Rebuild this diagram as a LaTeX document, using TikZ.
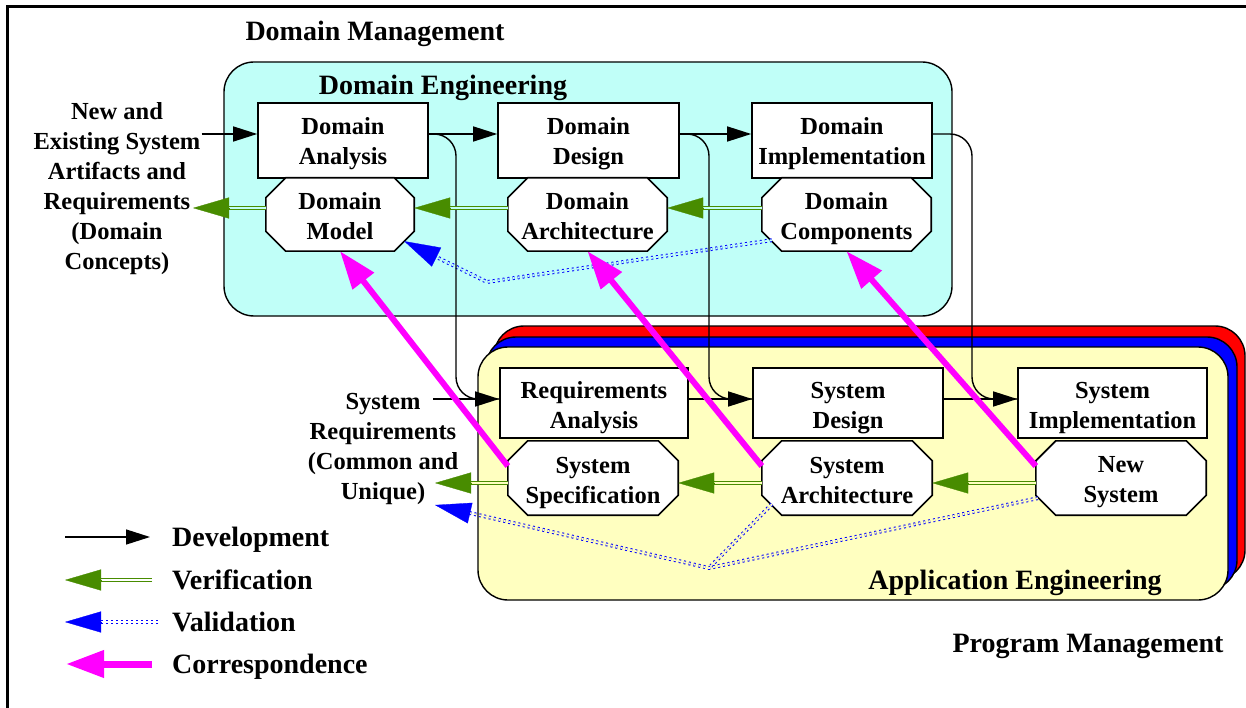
\documentclass[tikz,border=0pt]{standalone}
\usepackage{fontspec}
\setmainfont{Liberation Serif}
\usetikzlibrary{arrows.meta,calc}
\definecolor{cyanbg}{RGB}{192,255,248}
\definecolor{yellowbg}{RGB}{255,255,192}
\definecolor{vgreen}{RGB}{72,140,0}
\definecolor{corrc}{RGB}{255,0,255}
\newcommand\octoshape[1]{%
  \draw[line width=1.6pt, fill=white]
   ([xshift=20pt]#1.north west) -- ([xshift=-20pt]#1.north east) --
   ([yshift=-20pt]#1.north east) -- ([yshift=20pt]#1.south east) --
   ([xshift=-20pt]#1.south east) -- ([xshift=20pt]#1.south west) --
   ([yshift=20pt]#1.south west) -- ([yshift=-20pt]#1.north west) -- cycle;}
\begin{document}
\begin{tikzpicture}[x=1pt,y=-1pt,
  font=\fontsize{24.5}{30}\selectfont\bfseries,
  box/.style={draw, line width=1.6pt, fill=white, rectangle, inner sep=0pt},
  geo/.style={rectangle, inner sep=0pt},
  lbl/.style={align=center, inner sep=0pt},
  dev/.style={line width=1.4pt, -{Triangle[length=24pt,width=15pt]}},
  devline/.style={line width=1.4pt, rounded corners=22pt},
  verline/.style={draw=vgreen, line width=1.3pt, double=#1, double distance=1.6pt},
  verhead/.style={draw=vgreen, line width=0.3pt, -{Triangle[length=36pt,width=21pt]}},
  valline/.style={draw=blue, line width=1pt, double=#1, double distance=1.8pt, dash pattern=on 2pt off 3pt},
  valhead/.style={draw=blue, line width=0.3pt, -{Triangle[length=36pt,width=21pt]}},
  corr/.style={draw=corrc, line width=6pt, -{Triangle[length=38pt,width=26pt]}},
  head/.style={font=\fontsize{28}{33}\selectfont\bfseries, inner sep=0pt, anchor=base},
  txt/.style={align=center, inner sep=1pt}
]
\useasboundingbox (0,0) rectangle (1246,708);
\fill[white] (0,0) rectangle (1246,708);
% outer frame
\draw[line width=3pt] (7,708) -- (7,6.5) -- (1246,6.5);

% domain engineering box
\draw[line width=1.4pt, fill=cyanbg, rounded corners=30pt] (224,62) rectangle (952,316);
% application engineering stack
\draw[line width=1.4pt, fill=red, rounded corners=30pt] (494,326) rectangle (1245,580);
\draw[line width=1.4pt, fill=blue, rounded corners=30pt] (486,337) rectangle (1237,590);
\draw[line width=1.4pt, fill=yellowbg, rounded corners=30pt] (478,347) rectangle (1228,600);

% headings
\node[head] (hDM) at (375,40.5) {Domain Management};
\node[head] (hDE) at (443,94.5) {Domain Engineering};
\node[head] (hAE) at (1015,589.5) {Application Engineering};
\node[head] (hPM) at (1088,652.5) {Program Management};

% side texts
\node[txt] (NE) at (117,189) {New and\\Existing System\\Artifacts and\\Requirements\\(Domain\\Concepts)};
\node[txt] (SR) at (383,448.5) {System\\Requirements\\(Common and\\Unique)};

% domain boxes
\node[box, minimum width=170pt, minimum height=75pt] (DA) at (343,140.5) {};
\node[box, minimum width=181pt, minimum height=75pt] (DD) at (588.5,140.5) {};
\node[box, minimum width=180pt, minimum height=75pt] (DI) at (842,140.5) {};
\node[geo, minimum width=148pt, minimum height=73pt] (DM) at (340,214.5) {};
\node[geo, minimum width=159pt, minimum height=73pt] (DAr) at (587.5,214.5) {};
\node[geo, minimum width=169pt, minimum height=73pt] (DC) at (846.5,214.5) {};
\octoshape{DM}\octoshape{DAr}\octoshape{DC}
\node[lbl] (DAt) at ([yshift=-3.5pt]DA.center) {Domain\\Analysis};
\node[lbl] (DDt) at ([yshift=-3.5pt]DD.center) {Domain\\Design};
\node[lbl] (DIt) at ([yshift=-3.5pt]DI.center) {Domain\\Implementation};
\node[lbl] (DMt) at ([yshift=-1.5pt]DM.center) {Domain\\Model};
\node[lbl] (DArt) at ([yshift=-1.5pt]DAr.center) {Domain\\Architecture};
\node[lbl] (DCt) at ([yshift=-4pt]DC.center) {Domain\\Components};

% application boxes
\node[box, minimum width=188pt, minimum height=70pt] (RA) at (594,403) {};
\node[box, minimum width=190pt, minimum height=70pt] (SD) at (848,403) {};
\node[box, minimum width=189pt, minimum height=70pt] (SI) at (1112.5,403) {};
\node[geo, minimum width=170pt, minimum height=74pt] (SS) at (593,478) {};
\node[geo, minimum width=170pt, minimum height=74pt] (SA) at (847,478) {};
\node[geo, minimum width=170pt, minimum height=74pt] (NS) at (1121,478) {};
\octoshape{SS}\octoshape{SA}\octoshape{NS}
\node[lbl] (RAt) at ([yshift=-5pt]RA.center) {Requirements\\Analysis};
\node[lbl] (SDt) at ([yshift=-5pt]SD.center) {System\\Design};
\node[lbl] (SIt) at ([yshift=-5pt]SI.center) {System\\Implementation};
\node[lbl] (SSt) at ([yshift=-5pt]SS.center) {System\\Specification};
\node[lbl] (SAt) at ([yshift=-2.5pt]SA.center) {System\\Architecture};
\node[lbl] (NSt) at ([yshift=-4.5pt]NS.center) {New\\System};

% coordinates
\coordinate (v0) at (487,282);
\coordinate (v1) at (709,568);
\coordinate (Vt) at (435,505);
\coordinate (NEt) at (193,208);
\coordinate (SRt) at (435,483);
\coordinate (sr0) at (433,399);
\coordinate (k1) at (456,399);
\coordinate (k2) at (709,399);
\coordinate (k3) at (972,399);
\coordinate (cDC) at ($(DC.south west)+(10,-11)$);
\coordinate (cDM) at ($(DM.south east)+(-10,-10)$);
\coordinate (cSA) at ($(SA.south west)+(10,-11)$);
\coordinate (cNS) at ($(NS.south west)+(2,-17)$);

% validation
\draw[valline=cyanbg] (cDC) -- (v0) -- ($(cDM)!34pt!(v0)$);
\draw[valhead] ($(cDM)!36pt!(v0)$) -- (cDM);
\draw[valline=yellowbg] (cSA) -- (v1);
\draw[valline=yellowbg] (cNS) -- (v1) -- ($(Vt)!34pt!(v1)$);
\draw[valhead] ($(Vt)!36pt!(v1)$) -- (Vt);

% development
\coordinate (pA) at ([yshift=6.5pt]DA.west);
\coordinate (pAe) at ([yshift=6.5pt]DA.east);
\coordinate (pD) at ([yshift=6.5pt]DD.west);
\coordinate (pDe) at ([yshift=6.5pt]DD.east);
\coordinate (pI) at ([yshift=6.5pt]DI.west);
\coordinate (pIe) at ([yshift=6.5pt]DI.east);
\coordinate (pR) at ([yshift=4pt]RA.west);
\coordinate (pRe) at ([yshift=4pt]RA.east);
\coordinate (pS) at ([yshift=4pt]SD.west);
\coordinate (pSe) at ([yshift=4pt]SD.east);
\coordinate (pM) at ([yshift=4pt]SI.west);
\draw[dev] (NE.east |- pA) -- (pA);
\draw[dev] (pAe) -- (pD);
\draw[dev] (pDe) -- (pI);
\draw[devline] (pAe) -| (k1) -- (pR);
\draw[devline] (pDe) -| (k2) -- (pS);
\draw[devline] (pIe) -| (k3) -- (pM);
\draw[dev] (sr0) -- (pR);
\draw[dev] (pRe) -- (pS);
\draw[dev] (pSe) -- (pM);

% verification
\draw[verline=cyanbg] ([yshift=6.5pt]DM.west) -- ([xshift=35pt]NEt);
\draw[verhead] ([xshift=36pt]NEt) -- (NEt);
\draw[verline=cyanbg] ([yshift=6.5pt]DAr.west) -- ([yshift=6.5pt,xshift=35pt]DM.east);
\draw[verhead] ([yshift=6.5pt,xshift=36pt]DM.east) -- ([yshift=6.5pt]DM.east);
\draw[verline=cyanbg] ([yshift=6.5pt]DC.west) -- ([yshift=6.5pt,xshift=35pt]DAr.east);
\draw[verhead] ([yshift=6.5pt,xshift=36pt]DAr.east) -- ([yshift=6.5pt]DAr.east);
\draw[verline=yellowbg] ([yshift=-5pt]SS.west) -- ([xshift=35pt]SRt);
\draw[verhead] ([xshift=36pt]SRt) -- (SRt);
\draw[verline=yellowbg] ([yshift=-5pt]SA.west) -- ([yshift=-5pt,xshift=35pt]SS.east);
\draw[verhead] ([yshift=-5pt,xshift=36pt]SS.east) -- ([yshift=-5pt]SS.east);
\draw[verline=yellowbg] ([yshift=-5pt]NS.west) -- ([yshift=-5pt,xshift=35pt]SA.east);
\draw[verhead] ([yshift=-5pt,xshift=36pt]SA.east) -- ([yshift=-5pt]SA.east);

% correspondence
\draw[corr] (SS.172) -- (DM.south);
\draw[corr] (SA.172) -- (DAr.south);
\draw[corr] (NS.172) -- (DC.south);

% legend
\coordinate (L1a) at (65,537); \coordinate (L1b) at (150,537);
\coordinate (L2a) at (65,580); \coordinate (L2b) at (152,580);
\coordinate (L3a) at (65,622); \coordinate (L3b) at (158,622);
\coordinate (L4a) at (66,664); \coordinate (L4b) at (152,664);
\draw[dev] (L1a) -- (L1b);
\draw[verline=white] (L2b) -- ([xshift=35pt]L2a);
\draw[verhead] ([xshift=36pt]L2a) -- (L2a);
\draw[valline=white] (L3b) -- ([xshift=34pt]L3a);
\draw[valhead] ([xshift=36pt]L3a) -- (L3a);
\draw[corr, line width=7pt] (L4b) -- (L4a);
\node[head, anchor=base west] (t1) at (172,546.5) {Development};
\node[head, anchor=base west] (t2) at (172,589.5) {Verification};
\node[head, anchor=base west] (t3) at (172,631.5) {Validation};
\node[head, anchor=base west] (t4) at (172,673.5) {Correspondence};
\end{tikzpicture}
\end{document}
